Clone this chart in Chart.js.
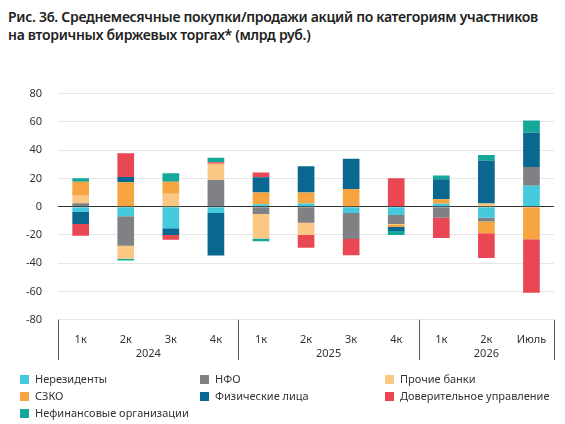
<!DOCTYPE html>
<html>
<head>
<meta charset="utf-8">
<script src="https://cdn.jsdelivr.net/npm/chart.js@4"></script>
<style>
  body { margin: 0; background: #fff; font-family: "Noto Sans", sans-serif; }
  #title { position: absolute; left: 8px; top: 8px; font-size: 14px; font-weight: 600; color: #222; line-height: 18px; white-space: nowrap; letter-spacing: -0.3px; }
  #wrap { position: absolute; left: 0; top: 71px; width: 560px; height: 302px; }
  #legend { position: absolute; left: 20px; top: 371px; display: grid; grid-template-columns: 180px 185px 200px; row-gap: 2px; font-size: 11px; color: #333; }
  #legend span.b { display: inline-block; width: 9px; height: 9px; margin-right: 6px; vertical-align: -1px; }
</style>
</head>
<body>
<div id="title">Рис. 36. Среднемесячные покупки/продажи акций по категориям участников<br>на вторичных биржевых торгах* (млрд руб.)</div>
<div id="wrap"><canvas id="c"></canvas></div>
<div id="legend"></div>
<script>
const periods = ['1к', '2к', '3к', '4к', '1к', '2к', '3к', '4к', '1к', '2к', 'Июль'];
const years = [['2024', 0, 3], ['2025', 4, 7], ['2026', 8, 10]];

const nerezidenty  = [-3.7, -6.8, -15.3, -4.4, 1.7, 2.2, -4.4, -5.9, 2.0, -7.9, 14.9];
const nfo          = [2.4, -20.8, 0, 18.8, -5.2, -11.4, -18.4, -6.3, -7.9, -2.6, 13.1];
const prochieBanki = [5.9, -9.2, 9.2, 11.6, -17.3, -8.7, 0, -0.7, 0, 2.2, 0];
const szko         = [9.4, 17.3, 8.5, 0, 8.3, 7.9, 12.5, -1.5, 3.3, -8.3, -23.0];
const fizLica      = [-8.5, 3.7, -4.8, -30.2, 10.9, 18.6, 21.4, -2.8, 14.2, 30.4, 24.3];
const doverit      = [-8.3, 16.8, -3.3, 1.1, 3.3, -9.0, -11.6, 20.1, -14.2, -17.5, -37.8];
const nefin        = [2.4, -1.3, 5.9, 3.1, -2.0, 0, 0, -2.8, 2.6, 3.9, 8.7];

const yTicks = [80, 60, 40, 20, 0, -20, -40, -60, -80];

const series = [
  { label: 'Нерезиденты', data: nerezidenty, color: '#45C9DC' },
  { label: 'НФО', data: nfo, color: '#808184' },
  { label: 'Прочие банки', data: prochieBanki, color: '#FAC785' },
  { label: 'СЗКО', data: szko, color: '#F6A540' },
  { label: 'Физические лица', data: fizLica, color: '#0A6790' },
  { label: 'Доверительное управление', data: doverit, color: '#EA4755' },
  { label: 'Нефинансовые организации', data: nefin, color: '#13A899' }
];

document.getElementById('legend').innerHTML = series.map(s =>
  '<div><span class="b" style="background:' + s.color + '"></span>' + s.label + '</div>').join('');

// годы под кварталами + разделители
const yearsPlugin = {
  id: 'years',
  afterDraw(chart) {
    const c = chart.ctx, x = chart.scales.x, area = chart.chartArea;
    const half = (x.getPixelForValue(1) - x.getPixelForValue(0)) / 2;
    c.save();
    c.strokeStyle = '#555';
    c.lineWidth = 1;
    c.fillStyle = '#333';
    c.font = '11px "Noto Sans"';
    c.textAlign = 'center';
    const seps = [x.getPixelForValue(0) - half, x.getPixelForValue(3) + half, x.getPixelForValue(7) + half, x.getPixelForValue(10) + half];
    seps.forEach(px => {
      c.beginPath();
      c.moveTo(Math.round(px) + 0.5, area.bottom);
      c.lineTo(Math.round(px) + 0.5, area.bottom + 40);
      c.stroke();
    });
    years.forEach(([y, a, b]) => {
      const mid = (x.getPixelForValue(a) + x.getPixelForValue(b)) / 2;
      c.fillText(y, mid, area.bottom + 37);
    });
    c.restore();
  }
};

new Chart(document.getElementById('c'), {
  type: 'bar',
  data: {
    labels: periods,
    datasets: series.map(s => ({
      label: s.label,
      data: s.data,
      backgroundColor: s.color,
      barPercentage: 0.37,
      categoryPercentage: 1
    }))
  },
  options: {
    responsive: true,
    maintainAspectRatio: false,
    animation: false,
    layout: { padding: { left: 10, right: 6, top: 6, bottom: 22 } },
    plugins: {
      legend: { display: false },
      tooltip: { enabled: false }
    },
    scales: {
      x: {
        stacked: true,
        grid: { display: false },
        border: { display: false },
        ticks: { color: '#333', font: { size: 11, family: 'Noto Sans' }, padding: 5 }
      },
      y: {
        stacked: true,
        min: -80,
        max: 80,
        afterBuildTicks: ax => { ax.ticks = yTicks.map(v => ({ value: v })); },
        grid: { color: ctx => ctx.tick.value === 0 ? '#333' : '#e6e6e6', drawTicks: false },
        border: { display: false },
        ticks: { color: '#333', font: { size: 11, family: 'Noto Sans' }, padding: 16 }
      }
    }
  },
  plugins: [yearsPlugin]
});
</script>
</body>
</html>
